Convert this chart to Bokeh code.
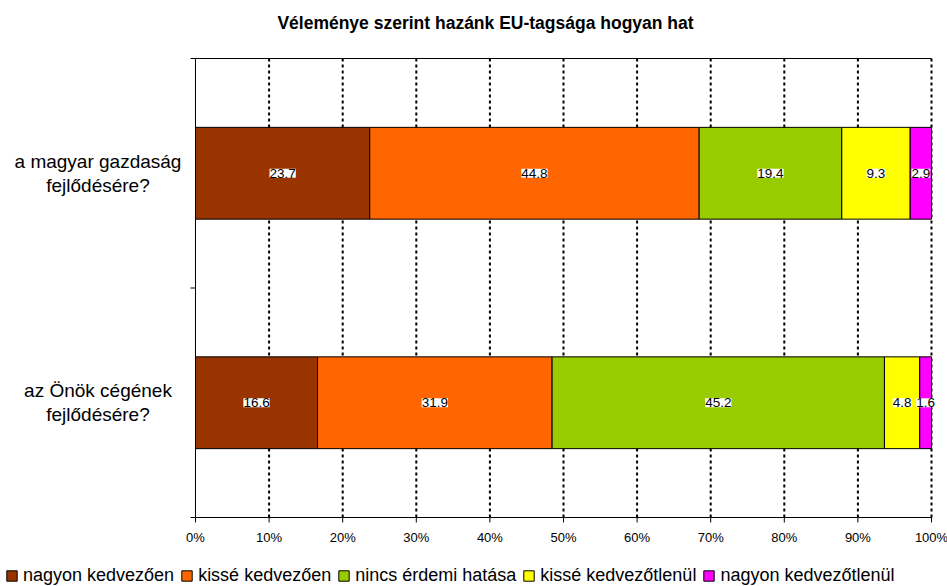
import pandas as pd
from bokeh.plotting import figure
from bokeh.models import ColumnDataSource, Range1d, LabelSet, Legend, LegendItem
from bokeh.core.properties import value
from bokeh.embed import file_html
from bokeh.resources import INLINE

# ---------------- data ----------------
title_text = "Véleménye szerint hazánk EU-tagsága hogyan hat"
questions = ["a magyar gazdaság\nfejlődésére?", "az Önök cégének\nfejlődésére?"]
answers = ["nagyon kedvezően", "kissé kedvezően", "nincs érdemi hatása",
           "kissé kedvezőtlenül", "nagyon kedvezőtlenül"]
colors = ["#993300", "#FF6600", "#99CC00", "#FFFF00", "#FF00FF"]
nagyon_kedvezoen = [23.7, 16.6]
kisse_kedvezoen = [44.8, 31.9]
nincs_erdemi_hatasa = [19.4, 45.2]
kisse_kedvezotlenul = [9.3, 4.8]
nagyon_kedvezotlenul = [2.9, 1.6]
x_ticks = [0, 10, 20, 30, 40, 50, 60, 70, 80, 90, 100]
x_tick_labels = ["%d%%" % t for t in x_ticks]

series = [nagyon_kedvezoen, kisse_kedvezoen, nincs_erdemi_hatasa,
          kisse_kedvezotlenul, nagyon_kedvezotlenul]
keys = ["s%d" % i for i in range(len(series))]
n = len(questions)

df = pd.DataFrame({k: s for k, s in zip(keys, series)})
totals = df.sum(axis=1)
norm = df.div(totals, axis=0) * 100.0
norm["y"] = [n - i - 0.5 for i in range(n)]
source = ColumnDataSource(norm)

# label positions (segment centres)
lx, ly, lt = [], [], []
for i in range(n):
    cum = 0.0
    for k in keys:
        v = norm.loc[i, k]
        lx.append(cum + v / 2.0)
        ly.append(norm.loc[i, "y"])
        lt.append("%.1f" % df.loc[i, k])
        cum += v
lab_src = ColumnDataSource(dict(x=lx, y=ly, t=lt))

FONT = "Liberation Sans"

# layout (pixels)
W, H = 947, 586
PLOT_LEFT = 195       # px from left to the 0% line
PLOT_RIGHT = 931      # px from left to the 100% line
PLOT_TOP = 58         # px from top to the plot area
PLOT_BOTTOM = 517     # px from top to the value axis
TITLE_Y = 22          # px from top to title centre
TICK_LABEL_Y = 537    # px from top to tick label centre
px_x = (PLOT_RIGHT - PLOT_LEFT) / (x_ticks[-1] - x_ticks[0])
px_y = (PLOT_BOTTOM - PLOT_TOP) / n
x_start = x_ticks[0] - PLOT_LEFT / px_x
x_end = x_ticks[-1] + (W - PLOT_RIGHT) / px_x
y_end = n + PLOT_TOP / px_y
y_start = 0 - (H - PLOT_BOTTOM) / px_y

p = figure(width=W, height=H, output_backend="svg", toolbar_location=None,
           x_range=Range1d(x_start, x_end), y_range=Range1d(y_start, y_end),
           x_axis_location=None, y_axis_location=None,
           min_border_left=0, min_border_right=0, min_border_top=0,
           min_border_bottom=0)
p.outline_line_color = None
p.background_fill_color = "white"
p.border_fill_color = "white"
p.xgrid.grid_line_color = None
p.ygrid.grid_line_color = None

# title
p.text(x=[x_start + 485 / px_x], y=[y_end - TITLE_Y / px_y], text=[title_text],
       text_align="center", text_baseline="middle", text_font=value(FONT),
       text_font_size="17.5px", text_font_style="bold", text_color="black")

# dotted vertical grid lines inside the plot area
g = x_ticks[1:]
p.segment(x0=g, x1=g, y0=[0] * len(g), y1=[n] * len(g), line_color="black",
          line_width=2, line_dash="3 3")

renderers = p.hbar_stack(keys, y="y", height=0.4, source=source,
                         fill_color=colors, line_color="black", line_width=1)

labels = LabelSet(x="x", y="y", text="t", source=lab_src,
                  text_align="center", text_baseline="middle",
                  text_font=value(FONT), text_font_size="13.5px", text_color="black",
                  background_fill_color="white")
p.add_layout(labels)

# category labels (left of the value axis), centred lines
cat_src = ColumnDataSource(dict(x=[x_start / 2.0] * n, y=list(norm["y"]), t=questions))
p.text(x="x", y="y", text="t", source=cat_src, text_align="center",
       text_baseline="middle", text_font=value(FONT), text_font_size="19px",
       text_color="black", text_line_height=1.15)

# plot-area frame lines
p.segment(x0=[x_ticks[0]], x1=[x_ticks[-1]], y0=[0], y1=[0], line_color="black", line_width=1)
p.segment(x0=[x_ticks[0]], x1=[x_ticks[-1]], y0=[n], y1=[n], line_color="black", line_width=1)
p.segment(x0=[x_ticks[0]], x1=[x_ticks[0]], y0=[0], y1=[n], line_color="black", line_width=1)
# category boundary ticks
bounds = list(range(n + 1))
p.segment(x0=[x_ticks[0] - 5 / px_x] * len(bounds), x1=[x_ticks[0]] * len(bounds),
          y0=bounds, y1=bounds, line_color="black", line_width=1)

# value axis ticks and labels
p.segment(x0=x_ticks, x1=x_ticks, y0=[0] * len(x_ticks), y1=[-5 / px_y] * len(x_ticks),
          line_color="black", line_width=1)
p.text(x=x_ticks, y=[-(TICK_LABEL_Y - PLOT_BOTTOM) / px_y] * len(x_ticks),
       text=x_tick_labels, text_align="center", text_baseline="middle",
       text_font=value(FONT), text_font_size="13px", text_color="black")

# legend at the bottom
items = [LegendItem(label=a, renderers=[r]) for a, r in zip(answers, renderers)]
lg = Legend(items=items, orientation="horizontal", location=(5, 0),
            border_line_color=None, background_fill_alpha=0,
            padding=0, margin=0, spacing=6,
            glyph_width=13, glyph_height=13, label_standoff=5,
            label_text_font=FONT, label_text_font_size="18px", label_text_color="black")
p.add_layout(lg, "center")

open("out.html", "w").write(file_html(p, INLINE))
